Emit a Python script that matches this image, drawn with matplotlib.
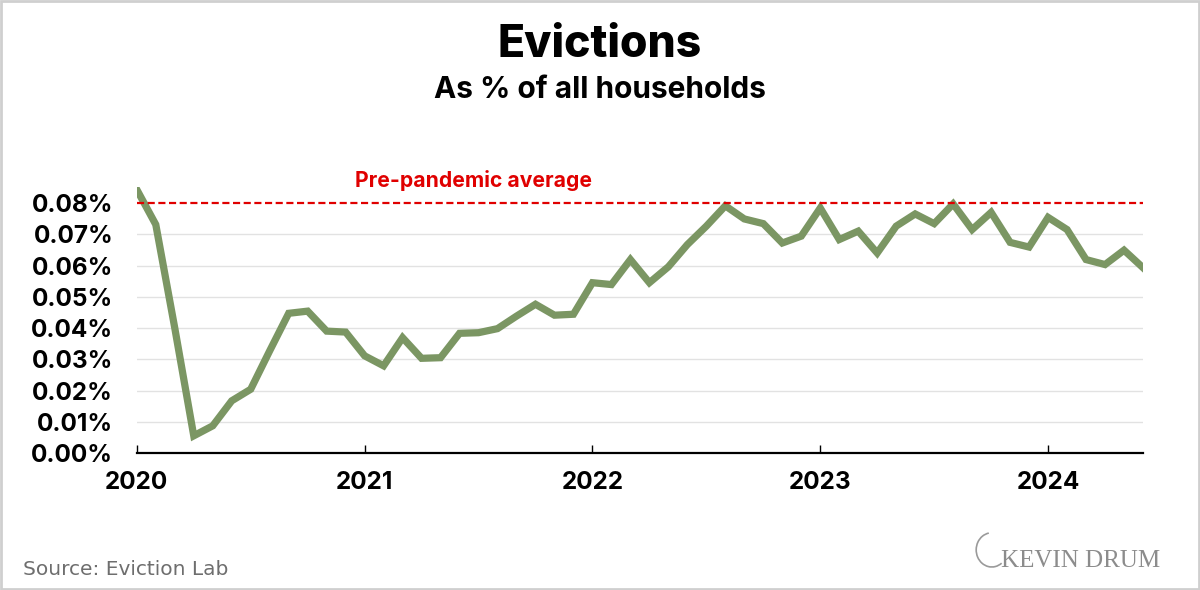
import numpy as np
import matplotlib
matplotlib.use("Agg")
import matplotlib.pyplot as plt
from matplotlib.patches import Arc, Rectangle

# monthly eviction filings as % of all households, Jan 2020 - Jun 2024
start_year = 2020
evictions = [0.0843, 0.0731, 0.0400, 0.0055, 0.0087, 0.0167, 0.0204, 0.0327, 0.0447, 0.0454,
             0.0390, 0.0387, 0.0311, 0.0279, 0.0369, 0.0303, 0.0305, 0.0383, 0.0385, 0.0398,
             0.0438, 0.0476, 0.0441, 0.0444, 0.0545, 0.0539, 0.0619, 0.0545, 0.0596, 0.0667,
             0.0726, 0.0791, 0.0749, 0.0734, 0.0672, 0.0694, 0.0784, 0.0683, 0.0710, 0.0640,
             0.0726, 0.0765, 0.0734, 0.0797, 0.0715, 0.0770, 0.0674, 0.0659, 0.0754, 0.0715,
             0.0619, 0.0603, 0.0649, 0.0593]
pre_pandemic_avg = 0.08
year_ticks = [2020, 2021, 2022, 2023, 2024]
y_ticks = [0.00, 0.01, 0.02, 0.03, 0.04, 0.05, 0.06, 0.07, 0.08]

x = start_year + np.arange(len(evictions)) / 12

FONT = "Inter"

fig = plt.figure(figsize=(12, 5.9), dpi=100)
ax = fig.add_axes([0.114, 0.2322, 0.8385, 0.4502])

ax.plot(x, evictions, color="#7b9663", lw=5.2, solid_joinstyle="miter", zorder=3)
ax.axhline(pre_pandemic_avg, color="#e00000", lw=1.6, ls=(0, (3.2, 1.6)), zorder=4)
ax.text(2021.48, 0.0871, "Pre-pandemic average", color="#e00000", ha="center", va="center",
        fontsize=15.2, fontweight="bold", family=FONT)

ax.set_xlim(x[0], x[-1])
ax.set_ylim(0, 0.085)
ax.set_yticks(y_ticks)
ax.set_yticklabels(["%.2f%%" % v for v in y_ticks], fontsize=17.5, fontweight="bold", family=FONT)
ax.set_xticks(year_ticks)
ax.set_xticklabels([str(y) for y in year_ticks], fontsize=17.5, fontweight="bold", family=FONT)
ax.tick_params(axis="y", length=0, pad=17)
ax.tick_params(axis="x", direction="in", length=6, width=1, pad=13)

for yv in y_ticks[1:-1]:
    ax.axhline(yv, color="#e2e2e2", lw=1, zorder=1)

for s in ["top", "right", "left"]:
    ax.spines[s].set_visible(False)
ax.spines["bottom"].set_linewidth(1.6)

fig.text(0.5, 0.904, "Evictions", ha="center", va="baseline", fontsize=32,
         fontweight="heavy", family=FONT)
fig.text(0.5, 0.8333, "As % of all households", ha="center", va="baseline", fontsize=21.5,
         fontweight="bold", family=FONT)
fig.text(0.019, 0.0254, "Source: Eviction Lab", ha="left", va="baseline", fontsize=14.5,
         color="#6e6e6e", family="DejaVu Sans")

# logo
fig.text(0.834, 0.0395, "KEVIN DRUM", ha="left", va="baseline", fontsize=18,
         color="#8c8c8c", family="Liberation Serif")
fig.patches.append(Arc((0.8265, 0.068), 0.026, 0.058, theta1=95, theta2=290,
                       transform=fig.transFigure, color="#9a9a9a", lw=1.2))

# light frame around the image
fig.patches.append(Rectangle((0.001, 0.002), 0.998, 0.996, transform=fig.transFigure,
                             fill=False, edgecolor="#cfcfcf", lw=2))

fig.savefig("out.png", dpi=100, facecolor="white")
